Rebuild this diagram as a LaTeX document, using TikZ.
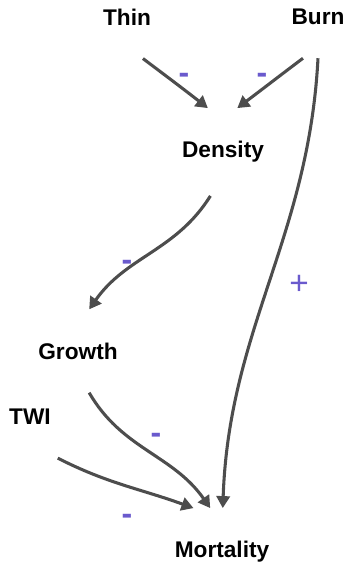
\documentclass[tikz,border=0pt]{standalone}
\usepackage{fontspec}
\setmainfont{Liberation Sans}
\usepackage{xcolor}
\definecolor{dagedge}{RGB}{77,77,77}
\definecolor{dagsign}{RGB}{106,90,205}
\usetikzlibrary{arrows.meta}

\begin{document}
\begin{tikzpicture}[x=0.75pt, y=-0.75pt,
  vbox/.style={rectangle, inner sep=0pt, outer sep=25pt,
               font=\fontsize{17}{20}\selectfont\bfseries, text=black},
  sbox/.style={inner sep=0pt, font=\fontsize{25}{29}\selectfont, text=dagsign},
  mbox/.style={sbox, font=\fontsize{24}{28}\selectfont\bfseries},
  earr/.style={-{Triangle[length=9pt, width=10pt]}, line width=2.3pt, draw=dagedge}
]
\useasboundingbox (0,0) rectangle (348,569);

% Variables
\node[vbox] (thin)      at (127, 17)  {Thin};
\node[vbox] (burn)      at (318, 17)  {Burn};
\node[vbox] (density)   at (223,152)  {Density};
\node[vbox] (growth)    at ( 78,351)  {Growth};
\node[vbox] (twi)       at ( 30,417)  {TWI};
\node[vbox] (mortality) at (222,552)  {Mortality};

% Signs
\node[mbox] (sthin)  at (184, 78) {-};
\node[mbox] (sburn)  at (262, 78) {-};
\node[sbox] (smort)  at (299,285) {+};
\node[mbox] (sdens)  at (127,265) {-};
\node[mbox] (sgrow)  at (156,438) {-};
\node[mbox] (stwi)   at (127,519) {-};

% Arrows
\draw[earr] (thin.-69)    to[out=-37,  in=142] (density.109);
\draw[earr] (burn.-110)   to[out=-143, in=37]  (density.72);
\draw[earr] (burn.south)  to[out=-93,  in=88]  (mortality.89);
\draw[earr] (density.-106) to[out=-122, in=55] (growth.75);
\draw[earr] (growth.-75)  to[out=-60,  in=125] (mortality.105);
\draw[earr] (twi.-56)     to[out=-27,  in=160] (mortality.123);
\end{tikzpicture}
\end{document}
